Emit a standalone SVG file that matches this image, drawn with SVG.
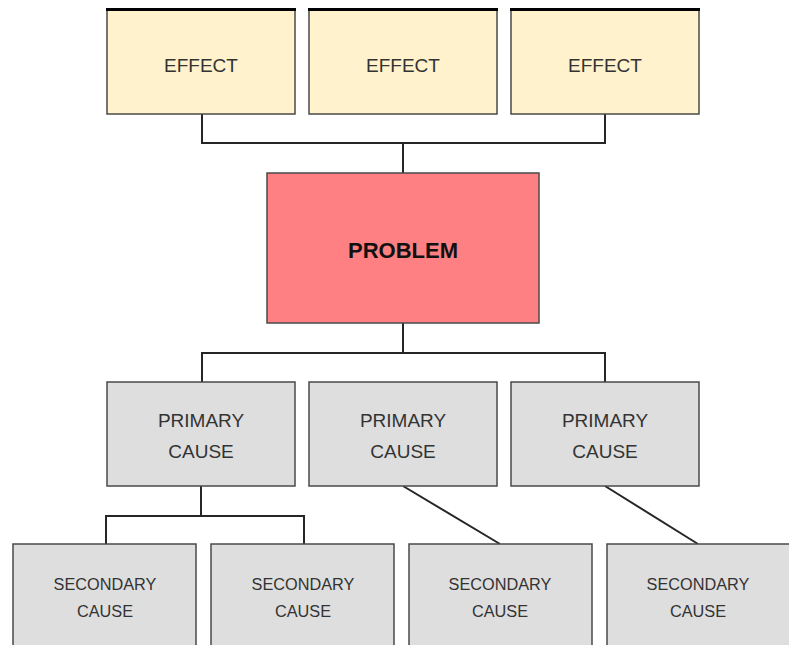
<svg xmlns="http://www.w3.org/2000/svg" width="789" height="645" viewBox="0 0 789 645">
<style>
.box{stroke:#4a4a4a;stroke-width:1.5}
.eff{fill:#FFF2CC}
.prob{fill:#FF8082}
.gray{fill:#DEDEDE}
.top{stroke:#000;stroke-width:3}
.conn{fill:none;stroke:#262626;stroke-width:2}
text{font-family:"Liberation Sans",Arial,sans-serif;fill:#333;text-anchor:middle}
.t19{font-size:19px}
.t16{font-size:16.3px}
.tb{font-size:22px;font-weight:bold;fill:#111}
</style>
<rect width="789" height="645" fill="#fff"/>
<g id="connectors">
<path class="conn" d="M202 114V143H605V114M403 143V173"/>
<path class="conn" d="M403 323V353M202 382V353H605V382"/>
<path class="conn" d="M201 486V516M106 544V516H304V544"/>
<path class="conn" d="M403 486L500 544"/>
<path class="conn" d="M605 486L698 544"/>
</g>
<g id="effect1"><rect class="box eff" x="107" y="9" width="188" height="105"/><line class="top" x1="106" y1="9.5" x2="296" y2="9.5"/><text class="t19" x="201" y="72">EFFECT</text></g>
<g id="effect2"><rect class="box eff" x="309" y="9" width="188" height="105"/><line class="top" x1="308" y1="9.5" x2="498" y2="9.5"/><text class="t19" x="403" y="72">EFFECT</text></g>
<g id="effect3"><rect class="box eff" x="511" y="9" width="188" height="105"/><line class="top" x1="510" y1="9.5" x2="700" y2="9.5"/><text class="t19" x="605" y="72">EFFECT</text></g>
<g id="problem"><rect class="box prob" x="267" y="173" width="272" height="150"/><text class="tb" x="403" y="258">PROBLEM</text></g>
<g id="primary1"><rect class="box gray" x="107" y="382" width="188" height="104"/><text class="t19" x="201" y="427">PRIMARY</text><text class="t19" x="201" y="458">CAUSE</text></g>
<g id="primary2"><rect class="box gray" x="309" y="382" width="188" height="104"/><text class="t19" x="403" y="427">PRIMARY</text><text class="t19" x="403" y="458">CAUSE</text></g>
<g id="primary3"><rect class="box gray" x="511" y="382" width="188" height="104"/><text class="t19" x="605" y="427">PRIMARY</text><text class="t19" x="605" y="458">CAUSE</text></g>
<g id="secondary1"><rect class="box gray" x="13" y="544" width="183" height="104"/><text class="t16" x="105" y="590">SECONDARY</text><text class="t16" x="105" y="617">CAUSE</text></g>
<g id="secondary2"><rect class="box gray" x="211" y="544" width="183" height="104"/><text class="t16" x="303" y="590">SECONDARY</text><text class="t16" x="303" y="617">CAUSE</text></g>
<g id="secondary3"><rect class="box gray" x="409" y="544" width="183" height="104"/><text class="t16" x="500" y="590">SECONDARY</text><text class="t16" x="500" y="617">CAUSE</text></g>
<g id="secondary4"><rect class="box gray" x="607" y="544" width="183" height="104"/><text class="t16" x="698" y="590">SECONDARY</text><text class="t16" x="698" y="617">CAUSE</text></g>
</svg>
